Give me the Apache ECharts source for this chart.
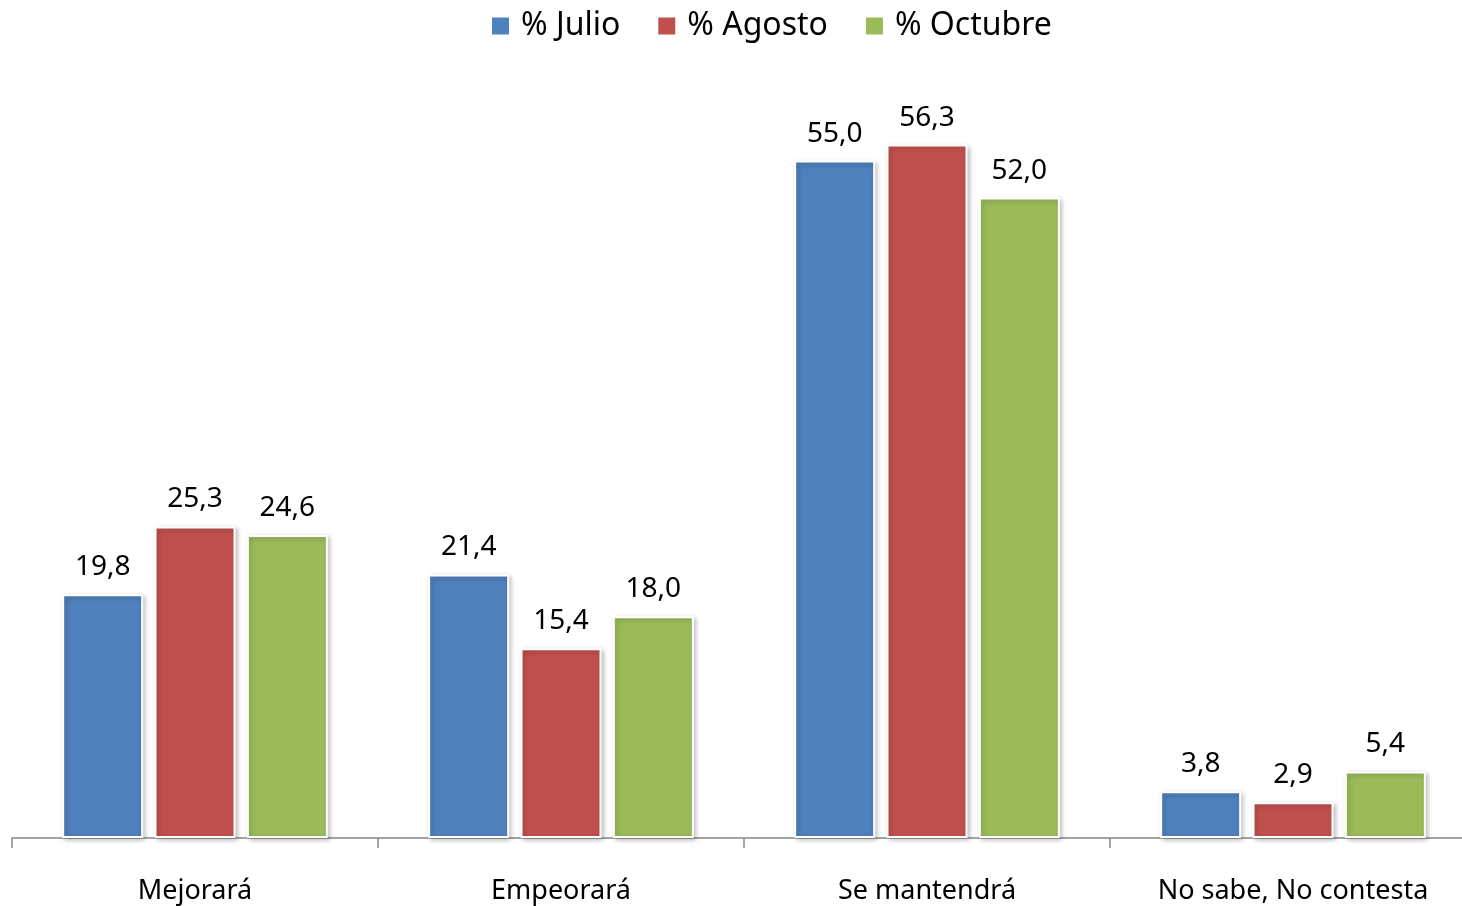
<!DOCTYPE html>
<html>
<head>
<meta charset="utf-8">
<script src="https://cdn.jsdelivr.net/npm/echarts@6/dist/echarts.min.js"></script>
<style>
  html, body { margin: 0; padding: 0; background: #fff; overflow: hidden; }
  #chart { width: 1476px; height: 906px; }
</style>
</head>
<body>
<div id="chart"></div>
<script>
const categories = ['Mejorará', 'Empeorará', 'Se mantendrá', 'No sabe, No contesta'];
const julio = [19.8, 21.4, 55.0, 3.8];
const agosto = [25.3, 15.4, 56.3, 2.9];
const octubre = [24.6, 18.0, 52.0, 5.4];

const font = '"Noto Sans", "Open Sans", sans-serif';
const myChart = echarts.init(document.getElementById('chart'));

function barSeries(name, data, color) {
  return {
    name: name,
    type: 'bar',
    data: data,
    barWidth: 81,
    barGap: '14%',
    itemStyle: {
      color: color,
      borderColor: '#fff',
      borderWidth: 2,
      shadowColor: 'rgba(0,0,0,0.25)',
      shadowBlur: 5,
      shadowOffsetX: 2,
      shadowOffsetY: 2
    },
    label: {
      show: true,
      position: 'top',
      distance: 13,
      fontFamily: font,
      fontSize: 28,
      color: '#000',
      formatter: p => p.value.toFixed(1).replace('.', ',')
    }
  };
}

const option = {
  animation: false,
  legend: {
    top: 5,
    left: 485,
    itemWidth: 19,
    itemHeight: 19,
    itemGap: 36,
    icon: 'rect',
    textStyle: { fontFamily: font, fontSize: 32, color: '#000', padding: [0, 0, 0, 6] },
    data: ['% Julio', '% Agosto', '% Octubre']
  },
  grid: { left: 12, top: 99, right: 0, height: 739 },
  xAxis: {
    type: 'category',
    data: categories,
    axisLine: { lineStyle: { color: '#868686', width: 1.5 } },
    axisTick: { show: true, length: 10, lineStyle: { color: '#868686', width: 1.5 } },
    axisLabel: { interval: 0, fontFamily: font, fontSize: 27, color: '#000', margin: 40 }
  },
  yAxis: {
    type: 'value',
    min: 0,
    max: 60,
    show: false,
    splitLine: { show: false }
  },
  series: [
    barSeries('% Julio', julio, '#4F81BD'),
    barSeries('% Agosto', agosto, '#C0504D'),
    barSeries('% Octubre', octubre, '#9BBB59')
  ]
};

myChart.setOption(option);
</script>
</body>
</html>
